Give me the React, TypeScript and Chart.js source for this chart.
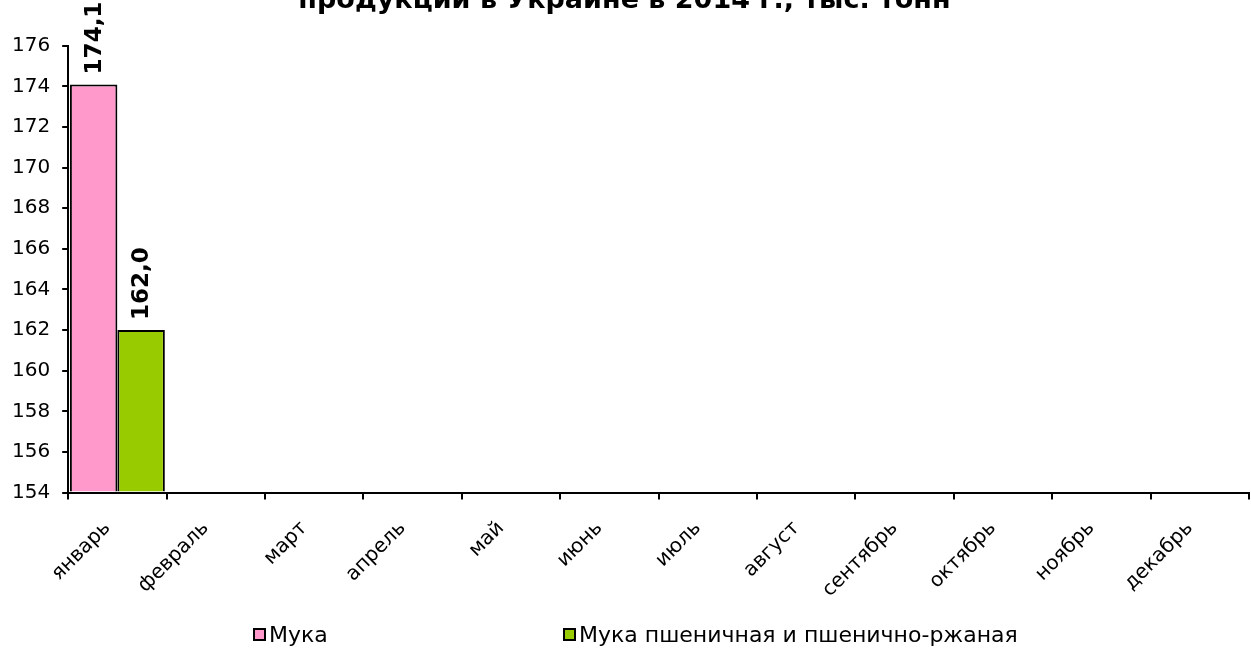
import React, { useEffect, useRef } from "react";
import { Chart, registerables } from "chart.js";

Chart.register(...registerables);

const months = ["январь", "февраль", "март", "апрель", "май", "июнь", "июль", "август", "сентябрь", "октябрь", "ноябрь", "декабрь"];
const mukaValues: (number | null)[] = [174.1, null, null, null, null, null, null, null, null, null, null, null];
const wheatValues: (number | null)[] = [162.0, null, null, null, null, null, null, null, null, null, null, null];
const seriesNames = ["Мука", "Мука пшеничная и пшенично-ржаная"];
const seriesColors = ["#FF99CC", "#99CC00"];
const titleLines = ["Производство мукомольной", "продукции в Украине в 2014 г., тыс. тонн"];
const yMin = 154;
const yMax = 176;
const yStep = 2;

const FONT = "'DejaVu Sans', Verdana, sans-serif";
const T = 60;

const valueLabels = {
  id: "valueLabels",
  afterDatasetsDraw(chart: any) {
    const ctx = chart.ctx;
    ctx.save();
    ctx.font = `bold 23px ${FONT}`;
    ctx.fillStyle = "#000";
    ctx.textAlign = "left";
    ctx.textBaseline = "middle";
    chart.data.datasets.forEach((ds: any, i: number) => {
      const meta = chart.getDatasetMeta(i);
      meta.data.forEach((el: any, j: number) => {
        const v = ds.data[j];
        if (v === null || v === undefined) return;
        ctx.save();
        ctx.translate(el.x + 1, el.y - 10);
        ctx.rotate(-Math.PI / 2);
        ctx.fillText(v.toFixed(1).replace(".", ","), 0, 0);
        ctx.restore();
      });
    });
    ctx.restore();
  },
};

export default function App() {
  const ref = useRef<HTMLCanvasElement>(null);
  useEffect(() => {
    if (!ref.current) return;
    const chart = new Chart(ref.current, {
      type: "bar",
      data: {
        labels: months,
        datasets: [
          { label: seriesNames[0], data: mukaValues, backgroundColor: seriesColors[0], borderColor: "#000", borderWidth: 2, base: yMin } as any,
          { label: seriesNames[1], data: wheatValues, backgroundColor: seriesColors[1], borderColor: "#000", borderWidth: 2, base: yMin } as any,
        ],
      },
      options: {
        responsive: false,
        animation: false,
        layout: { padding: { left: 0, right: 2, top: 0, bottom: 30 } },
        datasets: { bar: { categoryPercentage: 0.965, barPercentage: 1 } },
        plugins: {
          legend: { display: false },
          tooltip: { enabled: false },
          title: {
            display: true,
            text: titleLines,
            color: "#000",
            font: { family: FONT, size: 27, weight: "bold", lineHeight: 1.2 },
            padding: { top: 12, bottom: 29 },
          },
        },
        scales: {
          x: {
            offset: true,
            grid: { display: true, drawOnChartArea: false, drawTicks: true, tickLength: 7, color: "#000", lineWidth: 2, offset: true },
            border: { display: true, color: "#000", width: 2 },
            ticks: { color: "#000", font: { family: FONT, size: 20 }, maxRotation: 45, minRotation: 45, padding: 17, labelOffset: -10, autoSkip: false },
          },
          y: {
            min: yMin,
            max: yMax,
            grid: { display: true, drawOnChartArea: false, drawTicks: true, tickLength: 6, color: "#000", lineWidth: 2 },
            border: { display: true, color: "#000", width: 2 },
            ticks: { stepSize: yStep, color: "#000", font: { family: FONT, size: 20 }, padding: 12 },
          },
        },
      },
      plugins: [valueLabels],
    });
    return () => chart.destroy();
  }, []);

  return (
    <div style={{ position: "fixed", left: 0, top: 0, width: 1251, height: 649, overflow: "hidden", background: "#fff" }}>
      <canvas ref={ref} width={1251} height={649 + T} style={{ position: "absolute", left: 0, top: -T }} />
      {seriesNames.map((name, i) => (
        <div
          key={name}
          style={{
            position: "absolute",
            left: i === 0 ? 253 : 563,
            top: 622,
            display: "flex",
            alignItems: "center",
            fontFamily: FONT,
            fontSize: 22,
            color: "#000",
            whiteSpace: "nowrap",
          }}
        >
          <span style={{ display: "inline-block", width: 9, height: 9, border: "2px solid #000", background: seriesColors[i], marginRight: 3 }} />
          {name}
        </div>
      ))}
    </div>
  );
}
